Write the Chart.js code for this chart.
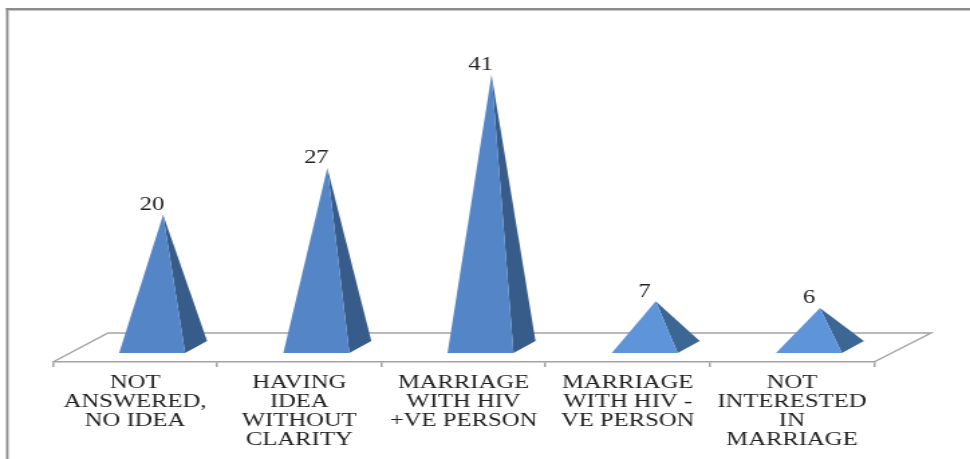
<!DOCTYPE html>
<html>
<head>
<meta charset="utf-8">
<script src="https://cdn.jsdelivr.net/npm/chart.js@4/dist/chart.umd.min.js"></script>
<style>
  html, body { margin: 0; padding: 0; background: #fff; overflow: hidden; }
  /* the reference is a picture stretched sideways, so the whole canvas is too */
  #chart { display: block; transform-origin: 0 0; transform: scaleX(1.3398); }
</style>
</head>
<body>
<canvas id="chart" width="724" height="459"></canvas>
<script>
const categories = [
  ['NOT', 'ANSWERED,', 'NO IDEA'],
  ['HAVING', 'IDEA', 'WITHOUT', 'CLARITY'],
  ['MARRIAGE', 'WITH HIV', '+VE PERSON'],
  ['MARRIAGE', 'WITH HIV -', 'VE PERSON'],
  ['NOT', 'INTERESTED', 'IN', 'MARRIAGE']
];
const values = [20, 27, 41, 7, 6];
const frontColors = ['#5486c7', '#5486c7', '#5486c7', '#5e95d9', '#5e95d9'];
const sideColors = ['#375c8a', '#375c8a', '#375c8a', '#3c6694', '#3c6694'];

const S = 1.3398;
const px = n => n / S;
const LINE = '#a3a3a3';
const TEXT = '#222222';
const FONT = '"Liberation Serif", serif';
const FONT_SIZE = 18.4;

const pyramids = {
  id: 'pyramids',
  beforeDatasetsDraw(chart) {
    const { ctx, chartArea: a } = chart;
    ctx.save();
    // outer frame, dark with a pale inner edge
    ctx.fillStyle = '#c4c4c4';
    ctx.fillRect(px(8), 10, px(1), 450);
    ctx.fillRect(px(8), 10, px(962), 1);
    ctx.fillStyle = '#8c8c8c';
    ctx.fillRect(px(6), 8, px(2), 460);
    ctx.fillRect(px(6), 8, px(964), 2);
    // floor behind the pyramids
    ctx.strokeStyle = LINE;
    ctx.lineWidth = 1.5;
    ctx.beginPath();
    ctx.moveTo(a.left, a.bottom);
    ctx.lineTo(a.left + px(55), a.bottom - 29);
    ctx.lineTo(a.right + px(57), a.bottom - 29);
    ctx.lineTo(a.right, a.bottom);
    ctx.stroke();
    ctx.restore();
  },
  afterDatasetsDraw(chart) {
    const { ctx } = chart;
    chart.getDatasetMeta(0).data.forEach((bar, i) => {
      const left = bar.x - bar.width / 2 + px(17);
      const right = bar.x + bar.width / 2 + px(17);
      const frontY = bar.base + 5;
      const backX = right + px(22);
      const backY = bar.base - 7;
      const topX = bar.x + px(28);

      ctx.fillStyle = sideColors[i];
      ctx.beginPath();
      ctx.moveTo(topX, bar.y);
      ctx.lineTo(right, frontY);
      ctx.lineTo(backX, backY);
      ctx.closePath();
      ctx.fill();

      ctx.fillStyle = frontColors[i];
      ctx.beginPath();
      ctx.moveTo(topX, bar.y);
      ctx.lineTo(left, frontY);
      ctx.lineTo(right, frontY);
      ctx.closePath();
      ctx.fill();

      ctx.fillStyle = TEXT;
      ctx.font = FONT_SIZE + 'px ' + FONT;
      ctx.textAlign = 'center';
      ctx.textBaseline = 'middle';
      ctx.fillText(values[i], bar.x + px(17), bar.y - 9.5);
    });
  }
};

new Chart(document.getElementById('chart'), {
  type: 'bar',
  data: {
    labels: categories,
    datasets: [{
      data: values,
      backgroundColor: 'rgba(0,0,0,0)',
      barPercentage: 0.402,
      categoryPercentage: 1
    }]
  },
  options: {
    responsive: false,
    animation: false,
    layout: { padding: { left: px(53), right: px(96), top: 48, bottom: 0 } },
    plugins: { legend: { display: false }, tooltip: { enabled: false } },
    scales: {
      x: {
        afterFit(scale) { scale.height = 97; },
        border: { color: LINE, width: 1.5 },
        grid: { color: LINE, lineWidth: 1.5, drawOnChartArea: false, tickLength: 5 },
        ticks: {
          color: TEXT,
          padding: 6.5,
          maxRotation: 0,
          autoSkip: false,
          font: { family: FONT, size: FONT_SIZE, lineHeight: 1.04 }
        }
      },
      y: { display: false, min: -2.1, max: 45 }
    }
  },
  plugins: [pyramids]
});
</script>
</body>
</html>
